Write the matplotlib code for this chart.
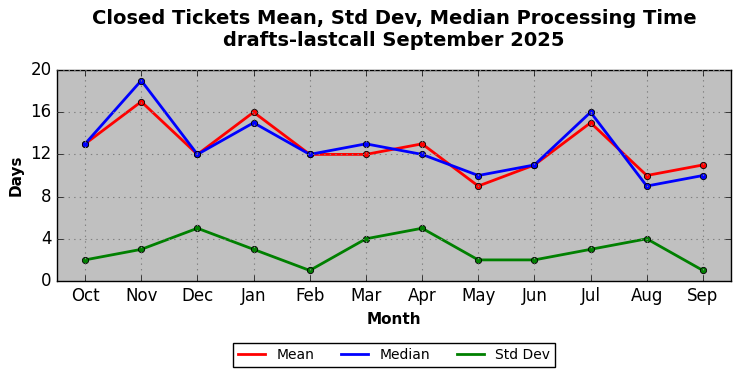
import numpy as np
import matplotlib
matplotlib.use("Agg")
import matplotlib.pyplot as plt

plt.style.use("classic")

months = ["Oct", "Nov", "Dec", "Jan", "Feb", "Mar", "Apr", "May", "Jun", "Jul", "Aug", "Sep"]
mean_vals = [13, 17, 12, 16, 12, 12, 13, 9, 11, 15, 10, 11]
median_vals = [13, 19, 12, 15, 12, 13, 12, 10, 11, 16, 9, 10]
std_vals = [2, 3, 5, 3, 1, 4, 5, 2, 2, 3, 4, 1]

x = np.arange(len(months))

fig = plt.figure(figsize=(7.42, 3.78), dpi=100, facecolor="white")
ax = fig.add_axes([57 / 742, 1 - 281 / 378, (731 - 57) / 742, (281 - 70) / 378])
ax.set_facecolor("#c0c0c0")

ax.plot(x, mean_vals, color="red", lw=2, marker="o", ms=4.5, mec="black", mew=0.6, label="Mean")
ax.plot(x, median_vals, color="blue", lw=2, marker="o", ms=4.5, mec="black", mew=0.6, label="Median")
ax.plot(x, std_vals, color="green", lw=2, marker="o", ms=4.5, mec="black", mew=0.6, label="Std Dev")

ax.set_xlim(-0.5, 11.5)
ax.set_ylim(0, 20)
ax.set_xticks(x)
ax.set_xticklabels(months)
ax.set_yticks([0, 4, 8, 12, 16, 20])
ax.tick_params(labelsize=12)
ax.grid(True, color="gray", linestyle=":", linewidth=0.8)

ax.set_xlabel("Month", fontsize=11, fontweight="bold")
ax.set_ylabel("Days", fontsize=11, fontweight="bold")
ax.set_title("Closed Tickets Mean, Std Dev, Median Processing Time\ndrafts-lastcall September 2025",
             fontsize=14, fontweight="bold", pad=17)

leg = ax.legend(loc="upper center", bbox_to_anchor=(0.5, -0.26), ncol=3, fontsize=10,
                numpoints=1, frameon=True, fancybox=False, borderpad=0.35,
                columnspacing=1.9, handlelength=2)
for line in leg.get_lines():
    line.set_marker("")
leg.get_frame().set_edgecolor("black")

fig.savefig("out.png", dpi=100, facecolor="white")
